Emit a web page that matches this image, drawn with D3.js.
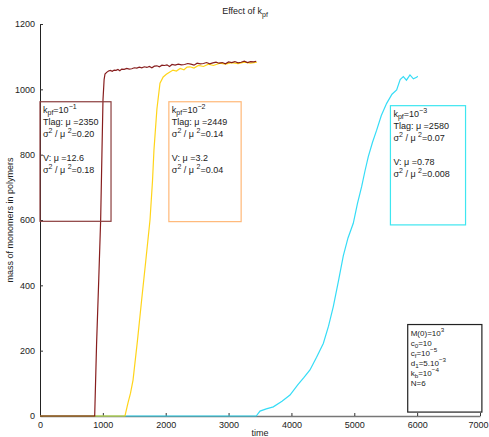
<!DOCTYPE html>
<html lang="en">
<head>
<meta charset="UTF-8">
<title>Effect of kpf</title>
<script src="https://cdn.jsdelivr.net/npm/d3@7"></script>
<style>
    body { margin: 0; background: #fff; }
    svg { font-family: 'Liberation Sans', Arial, sans-serif; }
    .tick text { font-size: 9px; fill: #222; }
    .tick line { stroke: #333; }
</style>
</head>
<body>
<svg width="489" height="437"></svg>
<script>
// kpf = 1e-1 (dark red)
const redT = [0, 870, 900, 935, 965, 985, 1002, 1020, 1034, 1060, 1090, 1120, 1150, 1180, 1210, 1240, 1270, 1300, 1340,
    1380, 1420, 1460, 1500, 1540, 1580, 1620, 1660, 1700, 1740, 1780, 1820, 1860, 1900, 1940, 1980, 2020, 2060,
    2100, 2150, 2200, 2250, 2300, 2350, 2400, 2450, 2500, 2550, 2600, 2650, 2700, 2750, 2800, 2850, 2900, 2950,
    3000, 3050, 3100, 3150, 3200, 3250, 3300, 3350, 3400, 3440];
const redV = [0, 0, 220, 420, 600, 800, 967, 1030, 1047, 1052, 1056, 1058, 1055, 1059, 1058, 1061, 1057, 1062, 1061,
    1064, 1062, 1063, 1066, 1065, 1068, 1066, 1069, 1067, 1070, 1066, 1071, 1072, 1069, 1074, 1073, 1075, 1070,
    1076, 1074, 1077, 1075, 1076, 1079, 1077, 1074, 1080, 1078, 1079, 1082, 1078, 1081, 1083, 1080, 1082, 1078,
    1084, 1082, 1085, 1081, 1083, 1086, 1082, 1085, 1084, 1086];

// kpf = 1e-2 (yellow)
const yelT = [0, 1352, 1400, 1440, 1480, 1550, 1617, 1680, 1750, 1790, 1813, 1860, 1909, 1960, 2010, 2060, 2116,
    2170, 2230, 2290, 2340, 2386, 2450, 2520, 2600, 2680, 2760, 2863, 2950, 3050, 3150, 3250, 3350, 3450];
const yelV = [0, 0, 40, 70, 110, 230, 355, 470, 600, 720, 814, 940, 1019, 1038, 1046, 1052, 1059,
    1056, 1064, 1060, 1068, 1069, 1065, 1073, 1070, 1077, 1073, 1080, 1077, 1082, 1079, 1083, 1080, 1083];

// kpf = 1e-3 (cyan)
const cyaT = [0, 3440, 3500, 3600, 3712, 3850, 3977, 4100, 4200, 4295, 4400, 4507, 4590, 4666, 4750, 4825, 4900,
    4984, 5050, 5117, 5170, 5223, 5290, 5356, 5430, 5515, 5600, 5674, 5730, 5780, 5830, 5886, 5940, 5992, 6010];
const cyaV = [0, 0, 15, 22, 28, 45, 64, 95, 118, 141, 180, 222, 275, 335, 415, 490, 545,
    590, 650, 702, 750, 794, 838, 875, 920, 957, 985, 998, 1030, 1039, 1028, 1044, 1032, 1037, 1040];

const xTicks = [0, 1000, 2000, 3000, 4000, 5000, 6000, 7000];
const yTicks = [0, 200, 400, 600, 800, 1000, 1200];

const series = [
    { t: cyaT, v: cyaV, color: "#1fd8f5" },
    { t: yelT, v: yelV, color: "#ffcf00" },
    { t: redT, v: redV, color: "#7a0606" }
];

// annotation boxes: [x0, x1] in time units, [y0, y1] in value units
const boxes = [
    { x: [0, 1130], y: [596, 962], color: "#8b3d3d",
      lines: [
        [["k"], ["pf", "sub"], ["=10"], ["\u22121", "sup"]],
        [["Tlag: \u03bc =2350"]],
        [["\u03c3"], ["2", "sup"], [" / \u03bc "], ["2", "sup"], ["=0.20"]],
        [],
        [["V: \u03bc =12.6"]],
        [["\u03c3"], ["2", "sup"], [" / \u03bc "], ["2", "sup"], ["=0.18"]]
      ] },
    { x: [2050, 3200], y: [595, 962], color: "#ffb878",
      lines: [
        [["k"], ["pf", "sub"], ["=10"], ["\u22122", "sup"]],
        [["Tlag: \u03bc =2449"]],
        [["\u03c3"], ["2", "sup"], [" / \u03bc "], ["2", "sup"], ["=0.14"]],
        [],
        [["V: \u03bc =3.2"]],
        [["\u03c3"], ["2", "sup"], [" / \u03bc "], ["2", "sup"], ["=0.04"]]
      ] },
    { x: [5575, 6770], y: [585, 950], color: "#3ee6f0",
      lines: [
        [["k"], ["pf", "sub"], ["=10"], ["\u22123", "sup"]],
        [["Tlag: \u03bc =2580"]],
        [["\u03c3"], ["2", "sup"], [" / \u03bc "], ["2", "sup"], ["=0.07"]],
        [],
        [["V: \u03bc =0.78"]],
        [["\u03c3"], ["2", "sup"], [" / \u03bc "], ["2", "sup"], ["=0.008"]]
      ] },
    { x: [5850, 7030], y: [12, 280], color: "#222",
      lines: [
        [["M(0)=10"], ["3", "sup"]],
        [["c"], ["0", "sub"], ["=10"]],
        [["c"], ["f", "sub"], ["=10"], ["\u22125", "sup"]],
        [["d"], ["1", "sub"], ["=5.10"], ["\u22123", "sup"]],
        [["k"], ["b", "sub"], ["=10"], ["\u22124", "sup"]],
        [["N=6"]]
      ] }
];

const svg = d3.select("svg");
const x = d3.scaleLinear().domain([0, 7000]).range([40, 480]);
const y = d3.scaleLinear().domain([0, 1200]).range([416, 24]);

// axes
svg.append("g").attr("transform", "translate(0,416)")
    .call(d3.axisBottom(x).tickValues(xTicks).tickFormat(d3.format("d"))
        .tickSizeInner(-3).tickSizeOuter(0).tickPadding(6))
    .call(g => g.select(".domain").attr("stroke", "#777").attr("stroke-width", 1.5))
    .call(g => g.selectAll(".tick text").filter(d => d === 7000).attr("dx", -2));
svg.append("g").attr("transform", "translate(40,0)")
    .call(d3.axisLeft(y).tickValues(yTicks).tickFormat(d3.format("d"))
        .tickSizeInner(-3).tickSizeOuter(0).tickPadding(5))
    .call(g => g.select(".domain").attr("stroke", "#222"));

// curves
const line = d3.line().x(d => x(d[0])).y(d => y(d[1]));
series.forEach(s => {
    svg.append("path")
        .datum(s.t.map((t, i) => [t, s.v[i]]))
        .attr("d", line)
        .attr("fill", "none")
        .attr("stroke", s.color)
        .attr("stroke-width", 1.2)
        .attr("stroke-opacity", 0.9);
});

// rich text helper: segments shift baseline for sub / sup
function richText(sel, segs, fs) {
    let cur = 0;
    segs.forEach(seg => {
        const shift = seg[1] === "sub" ? 2.5 : seg[1] === "sup" ? -3.5 : 0;
        const sp = sel.append("tspan").text(seg[0]).attr("dy", shift - cur);
        if (seg[1]) sp.attr("font-size", fs * 0.78);
        cur = shift;
    });
}

// annotation boxes
boxes.forEach((b, bi) => {
    const x0 = x(b.x[0]), x1 = x(b.x[1]), y0 = y(b.y[1]), y1 = y(b.y[0]);
    svg.append("rect")
        .attr("x", x0).attr("y", y0)
        .attr("width", x1 - x0).attr("height", y1 - y0)
        .attr("fill", "none")
        .attr("stroke", b.color)
        .attr("stroke-width", 1.2);
    const small = bi === 3;
    const lh = small ? 10 : 12;
    const fs = small ? 8 : 9;
    b.lines.forEach((segs, li) => {
        const txt = svg.append("text")
            .attr("x", x0 + 3)
            .attr("y", y0 + 11 + li * lh)
            .attr("font-size", fs)
            .attr("fill", "#222");
        richText(txt, segs, fs);
    });
});

// title and labels
const title = svg.append("text").attr("x", 245).attr("y", 14)
    .attr("text-anchor", "middle").attr("font-size", 9).attr("fill", "#222");
richText(title, [["Effect of k"], ["pf", "sub"]], 9);

svg.append("text").attr("x", 260).attr("y", 436)
    .attr("text-anchor", "middle").attr("font-size", 9).attr("fill", "#222")
    .text("time");

svg.append("text")
    .attr("transform", "translate(13,220) rotate(-90)")
    .attr("text-anchor", "middle").attr("font-size", 9).attr("fill", "#222")
    .text("mass of monomers in polymers");
</script>
</body>
</html>
